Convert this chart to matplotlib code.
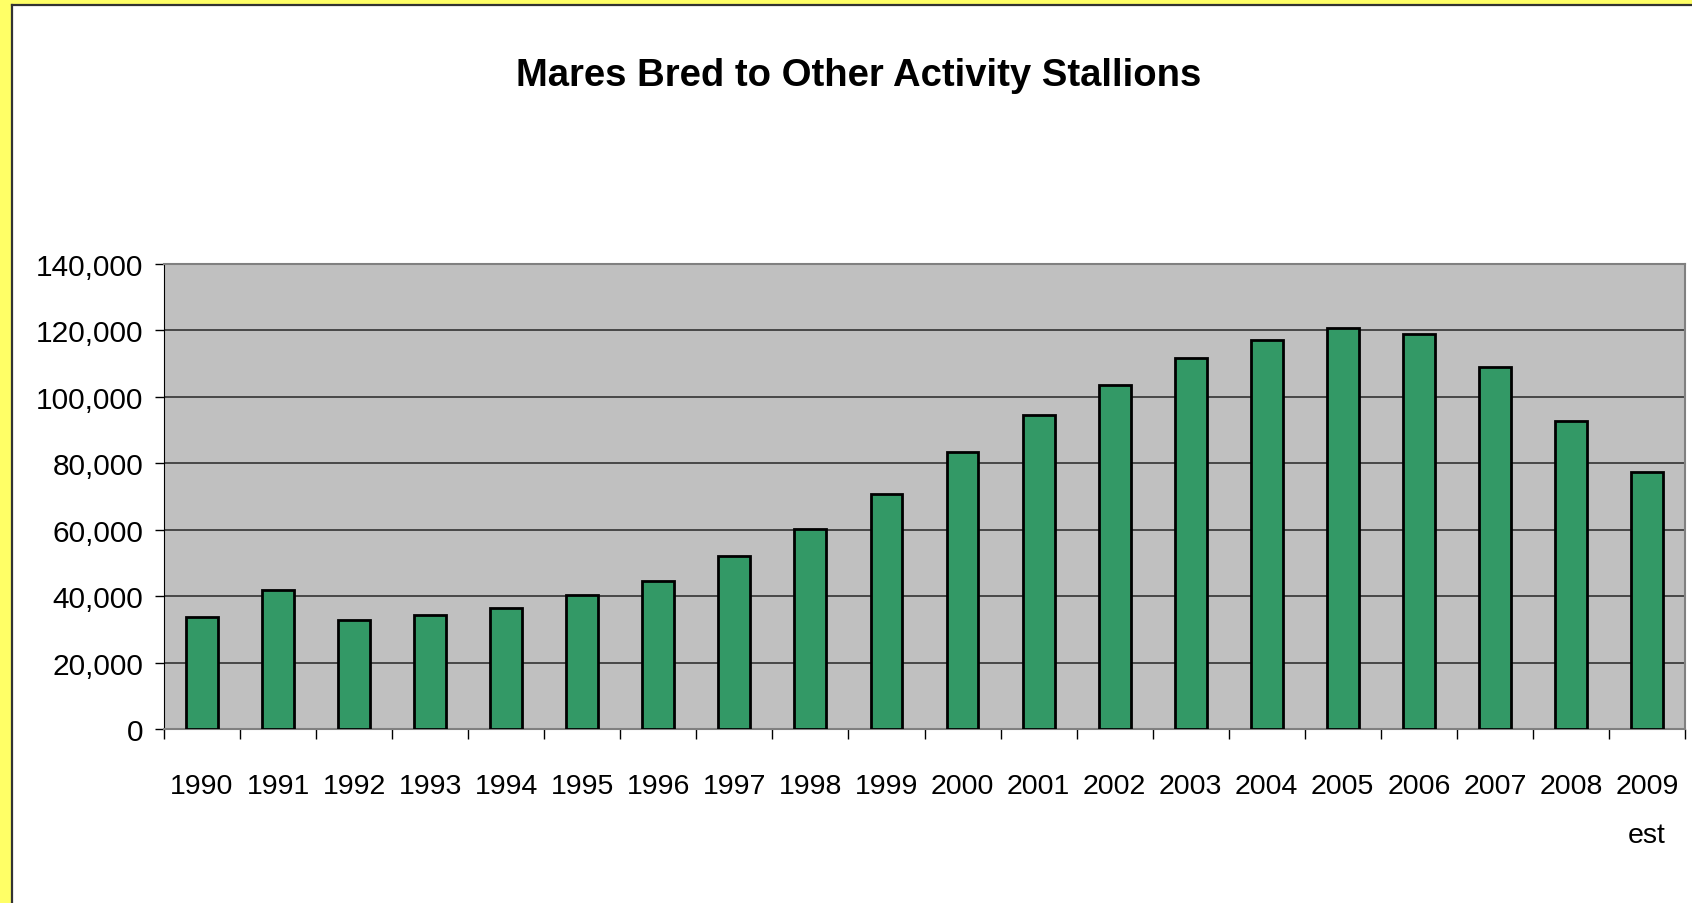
import matplotlib
matplotlib.use('Agg')
import matplotlib.pyplot as plt
from matplotlib.patches import Rectangle
from matplotlib.lines import Line2D
from matplotlib.ticker import FuncFormatter, FixedLocator

years = ['1990', '1991', '1992', '1993', '1994', '1995', '1996', '1997', '1998', '1999',
         '2000', '2001', '2002', '2003', '2004', '2005', '2006', '2007', '2008', '2009\nest']
mares = [33700, 41900, 32800, 34400, 36400, 40300, 44500, 52000, 60100, 70800,
         83500, 94500, 103600, 111700, 117200, 120800, 118900, 109100, 92600, 77300]
yticks = [0, 20000, 40000, 60000, 80000, 100000, 120000, 140000]

plt.rcParams['font.family'] = ['Liberation Sans', 'DejaVu Sans']

W, H = 1692, 904
fig = plt.figure(figsize=(W / 100, H / 100), dpi=100)
fig.patch.set_facecolor('white')

# yellow frame on the left and top, with a dark edge
fig.patches.append(Rectangle((0, 0), 11 / W, 1, transform=fig.transFigure,
                             facecolor='#FFFF66', edgecolor='none', zorder=0))
fig.patches.append(Rectangle((0, 1 - 5 / H), 1, 5 / H, transform=fig.transFigure,
                             facecolor='#FFFF66', edgecolor='none', zorder=0))
fig.lines.append(Line2D([12 / W, 12 / W], [0, 1 - 6 / H], transform=fig.transFigure,
                        color='#333333', lw=1.6))
fig.lines.append(Line2D([12 / W, 1], [1 - 6 / H, 1 - 6 / H], transform=fig.transFigure,
                        color='#333333', lw=1.6))

ax = fig.add_axes([164 / W, 1 - 730 / H, (1685 - 164) / W, (730 - 265) / H])
ax.set_facecolor('#C0C0C0')
x = range(len(years))
ax.bar(x, mares, width=0.42, color='#339966', edgecolor='black', linewidth=2, zorder=3)

ax.set_xlim(-0.5, len(years) - 0.5)
ax.set_ylim(0, 140000)
ax.set_yticks(yticks)
ax.yaxis.set_major_formatter(FuncFormatter(lambda v, p: f'{int(v):,}'))
ax.yaxis.grid(True, color='#333333', lw=1.2, zorder=1)
ax.set_axisbelow(True)

# ticks sit between categories, labels under the bars
ax.xaxis.set_major_locator(FixedLocator([i - 0.5 for i in range(len(years) + 1)]))
ax.xaxis.set_minor_locator(FixedLocator(list(x)))
ax.set_xticklabels([])
ax.set_xticklabels(years, minor=True)
for lbl in ax.get_xticklabels(minor=True):
    lbl.set_linespacing(2.15)
ax.tick_params(axis='x', which='major', length=7.2, width=1, color='black', direction='out')
ax.tick_params(axis='x', which='minor', length=0, pad=32, labelsize=20.5)
ax.tick_params(axis='y', length=6.5, width=1, direction='out', labelsize=21.5, pad=8.5)

for side in ['top', 'right']:
    ax.spines[side].set_color('#808080')
    ax.spines[side].set_linewidth(1.5)
ax.spines['left'].set_color('black')
ax.spines['bottom'].set_color('#808080')
ax.spines['bottom'].set_linewidth(1.5)

fig.text(859 / W, 1 - 76 / H, 'Mares Bred to Other Activity Stallions',
         ha='center', va='center', fontsize=27.5, fontweight='bold')

fig.savefig('out.png', dpi=100)
